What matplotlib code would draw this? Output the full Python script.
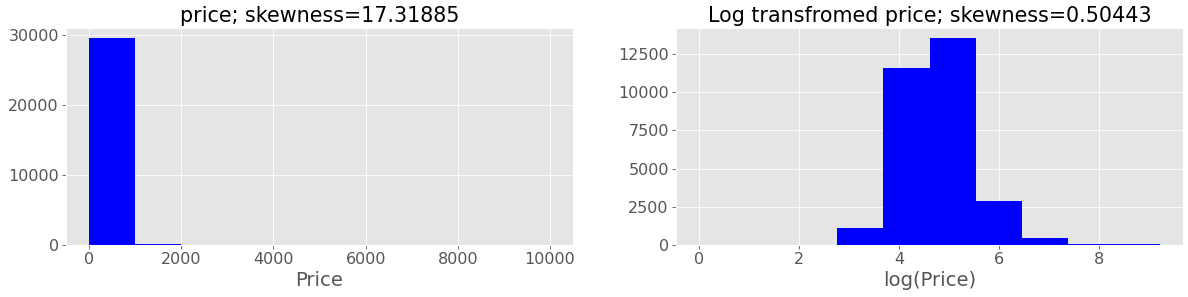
import numpy as np
import matplotlib
matplotlib.use("Agg")
from matplotlib import pyplot as plt
from matplotlib.ticker import MultipleLocator

plt.style.use('ggplot')

# histogram counts (10 bins each)
price_edges = np.linspace(0, 10000, 11)
price_counts = [29480, 190, 25, 10, 6, 4, 3, 2, 1, 2]

log_edges = np.linspace(0, np.log(10000), 11)
log_counts = [3, 0, 0, 1087, 11587, 13522, 2848, 435, 87, 60]

fig, (ax1, ax2) = plt.subplots(1, 2, figsize=(16, 4), dpi=74.25)

ax1.hist(price_edges[:-1], bins=price_edges, weights=price_counts, color='b')
ax1.set_title('price; skewness=17.31885', fontsize=20)
ax1.set_xlabel('Price', fontsize=19)
ax1.tick_params(labelsize=15.5)
ax1.yaxis.set_major_locator(MultipleLocator(10000))

ax2.hist(log_edges[:-1], bins=log_edges, weights=log_counts, color='b')
ax2.set_title('Log transfromed price; skewness=0.50443', fontsize=20)
ax2.set_xlabel('log(Price)', fontsize=19)
ax2.tick_params(labelsize=15.5)

plt.subplots_adjust(left=0.0556, right=0.9958, top=0.906, bottom=0.175, wspace=0.203)
plt.savefig('out.png')
